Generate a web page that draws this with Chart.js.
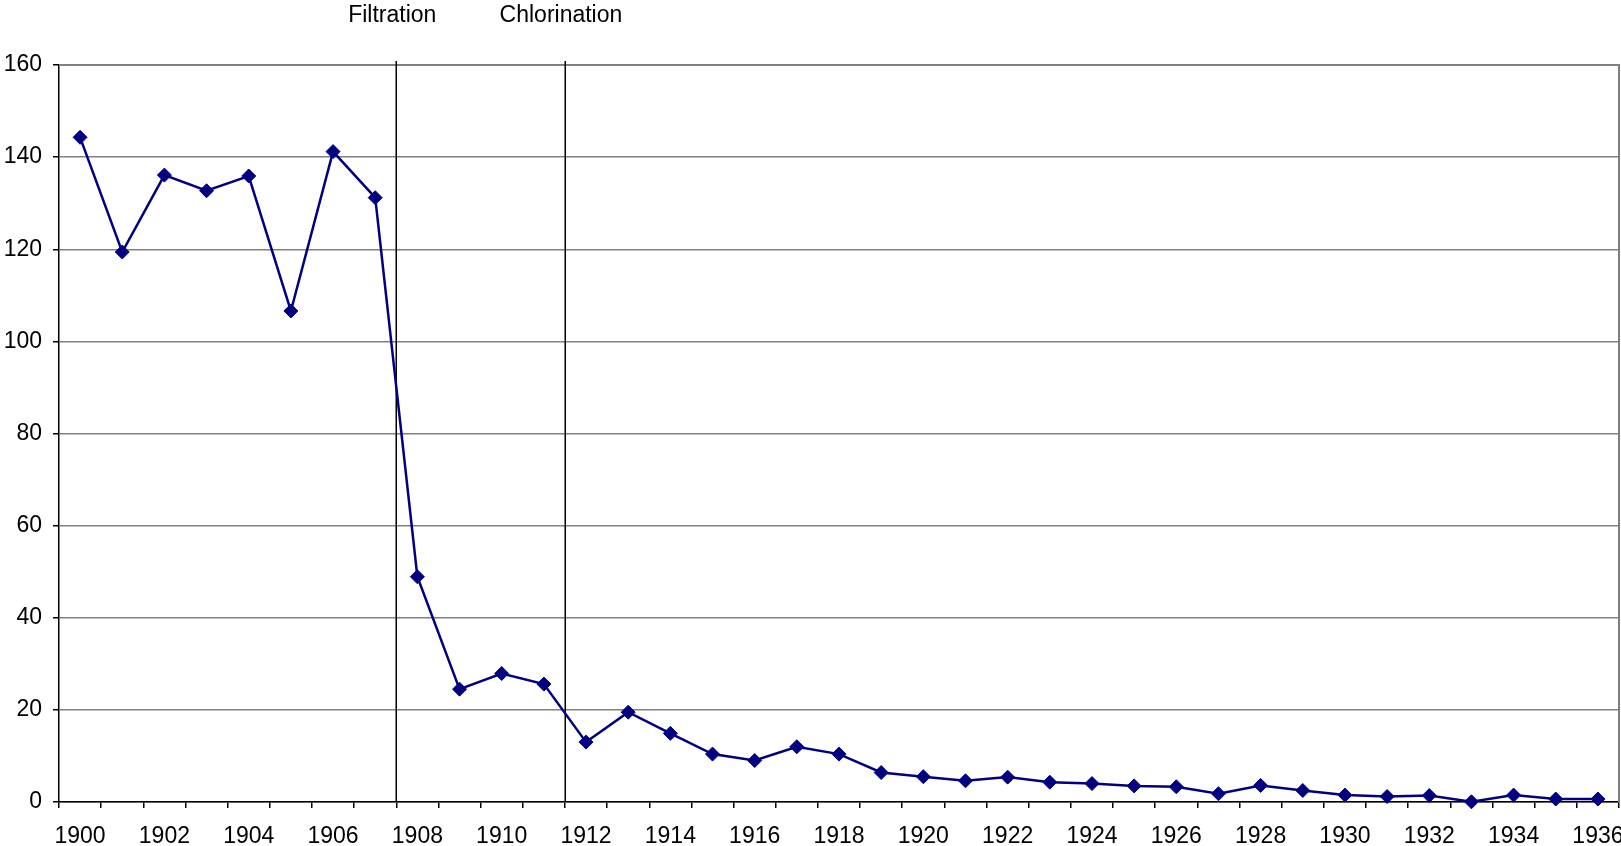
<!DOCTYPE html>
<html>
<head>
<meta charset="utf-8">
<script src="https://cdn.jsdelivr.net/npm/chart.js@4.4.1/dist/chart.umd.min.js"></script>
<style>
html,body{margin:0;padding:0;background:#fff;}
canvas{display:block;}
</style>
</head>
<body>
<canvas id="c" width="1621" height="846"></canvas>
<script>
const years = [1900,1901,1902,1903,1904,1905,1906,1907,1908,1909,1910,1911,1912,1913,1914,1915,1916,1917,1918,1919,1920,1921,1922,1923,1924,1925,1926,1927,1928,1929,1930,1931,1932,1933,1934,1935,1936];
const rates = [144.3,119.4,136.1,132.7,135.9,106.6,141.2,131.2,48.9,24.5,27.9,25.6,13.0,19.5,14.9,10.4,9.0,12.0,10.4,6.4,5.5,4.6,5.4,4.3,4.0,3.5,3.3,1.8,3.6,2.5,1.5,1.2,1.4,0.05,1.5,0.65,0.65];
const yTicks = [0,20,40,60,80,100,120,140,160];
const eventLabels = ['Filtration','Chlorination'];
const eventYears = [1908,1912];

const FONT = "'Liberation Sans', Arial, sans-serif";

const overlay = {
  id: 'overlay',
  beforeDatasetsDraw(chart) {
    const {ctx, chartArea: a, scales: {x}} = chart;
    ctx.save();
    ctx.strokeStyle = '#808080';
    ctx.lineWidth = 2;
    ctx.beginPath();
    ctx.moveTo(a.left, a.top);
    ctx.lineTo(a.right, a.top);
    ctx.lineTo(a.right, a.bottom);
    ctx.stroke();
    ctx.strokeStyle = '#000';
    ctx.lineWidth = 1.5;
    eventYears.forEach(yr => {
      const idx = years.indexOf(yr) - 0.5;
      const px = Math.round(x.getPixelForValue(idx)) + 0.25;
      ctx.beginPath();
      ctx.moveTo(px, a.top - 4);
      ctx.lineTo(px, a.bottom);
      ctx.stroke();
    });
    ctx.restore();
  },
  afterDraw(chart) {
    const {ctx, scales: {x}} = chart;
    ctx.save();
    ctx.fillStyle = '#000';
    ctx.font = '23px ' + FONT;
    ctx.textAlign = 'center';
    ctx.textBaseline = 'alphabetic';
    eventYears.forEach((yr, i) => {
      const idx = years.indexOf(yr) - 0.5;
      const px = x.getPixelForValue(idx);
      ctx.fillText(eventLabels[i], px - 4, 21.5);
    });
    ctx.restore();
  }
};

new Chart(document.getElementById('c'), {
  type: 'line',
  data: {
    labels: years.map(String),
    datasets: [{
      data: rates,
      borderColor: '#000080',
      backgroundColor: '#000080',
      borderWidth: 2.5,
      tension: 0,
      pointStyle: 'rectRot',
      pointRadius: 7,
      pointHoverRadius: 7,
      pointBorderWidth: 1,
      pointBackgroundColor: '#000080',
      pointBorderColor: '#000080',
      clip: false
    }]
  },
  options: {
    responsive: false,
    devicePixelRatio: 1,
    animation: false,
    events: [],
    layout: {autoPadding: false, padding: {top: 65, right: 2, left: 0, bottom: 0}},
    plugins: {legend: {display: false}, title: {display: false}, tooltip: {enabled: false}},
    scales: {
      x: {
        type: 'category',
        offset: true,
        grid: {offset: true, drawOnChartArea: false, drawTicks: true, tickLength: 6, tickColor: '#000', lineWidth: 1.5},
        border: {display: true, color: '#000', width: 1.5},
        ticks: {
          autoSkip: false, maxRotation: 0, minRotation: 0, padding: 15,
          color: '#000', font: {family: FONT, size: 23},
          callback: function(v, i) { return i % 2 === 0 ? this.getLabelForValue(v) : ''; }
        },
        afterFit(s) { s.height = 44; s.paddingLeft = 0; s.paddingRight = 0; }
      },
      y: {
        min: 0, max: 160,
        afterBuildTicks(s) { s.ticks = yTicks.map(v => ({value: v})); },
        grid: {color: '#808080', lineWidth: 1.5, drawTicks: true, tickLength: 6, tickColor: '#000'},
        border: {display: true, color: '#000', width: 1.5},
        ticks: {padding: 11, color: '#000', font: {family: FONT, size: 23}},
        afterFit(s) { s.width = 59; }
      }
    }
  },
  plugins: [overlay]
});
</script>
</body>
</html>
